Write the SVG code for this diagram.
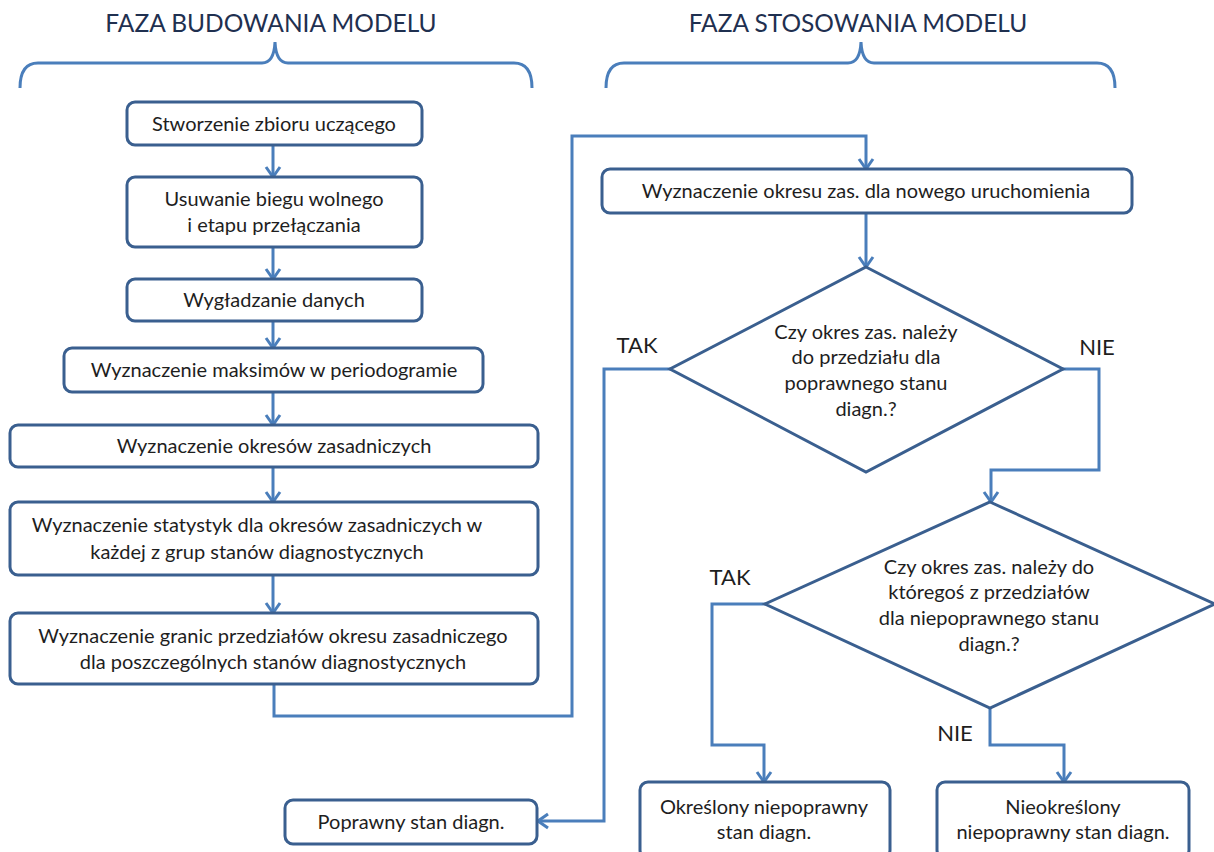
<svg xmlns="http://www.w3.org/2000/svg" width="1214" height="852" viewBox="0 0 1214 852">
<defs>
<style>
.box{fill:#fff;stroke:#3a5f8f;stroke-width:3}
.con{fill:none;stroke:#4a7ebb;stroke-width:3}
.brace{fill:none;stroke:#4a7ebb;stroke-width:3}
text{font-family:Lato,"Open Sans","Liberation Sans",sans-serif;fill:#1e1e1e;text-anchor:middle}
.t{font-size:20px}
.hdr{font-size:24.5px;fill:#1f3050}
.lbl{font-size:22px;fill:#1e1e1e}
</style>
<marker id="arr" markerUnits="userSpaceOnUse" markerWidth="14" markerHeight="18" viewBox="0 0 14 18" refX="12" refY="9" orient="auto">
<path d="M2,2 L12,9 L2,16" fill="none" stroke="#4a7ebb" stroke-width="3"/>
</marker>
</defs>
<rect width="1214" height="852" fill="#fff"/>

<g id="headers">
<text class="hdr" x="271" y="32">FAZA BUDOWANIA MODELU</text>
<text class="hdr" x="858" y="32">FAZA STOSOWANIA MODELU</text>
<path class="brace" d="M20,88 Q20,63 38,63 L262,63 Q274,63 275,42 Q276,63 288,63 L514,63 Q532,63 532,88"/>
<path class="brace" d="M606,88 Q606,63 624,63 L848,63 Q860,63 861,42 Q862,63 874,63 L1097,63 Q1115,63 1115,88"/>
</g>

<g id="connectors">
<line class="con" x1="273" y1="145" x2="273" y2="177" marker-end="url(#arr)"/>
<line class="con" x1="273" y1="247" x2="273" y2="279" marker-end="url(#arr)"/>
<line class="con" x1="273" y1="320" x2="273" y2="348" marker-end="url(#arr)"/>
<line class="con" x1="273" y1="392" x2="273" y2="425" marker-end="url(#arr)"/>
<line class="con" x1="273" y1="467" x2="273" y2="502" marker-end="url(#arr)"/>
<line class="con" x1="273" y1="575" x2="273" y2="613" marker-end="url(#arr)"/>
<polyline class="con" points="274,684 274,716 572,716 572,136 866,136 866,169" marker-end="url(#arr)"/>
<line class="con" x1="866" y1="213" x2="866" y2="267" marker-end="url(#arr)"/>
<polyline class="con" points="672,369 604,369 604,821 538,821" marker-end="url(#arr)"/>
<polyline class="con" points="1062,369 1099,369 1099,470 991,470 991,502" marker-end="url(#arr)"/>
<polyline class="con" points="767,604 712,604 712,745 764,745 764,782" marker-end="url(#arr)"/>
<polyline class="con" points="990,708 990,745 1064,745 1064,782" marker-end="url(#arr)"/>
</g>

<g id="n1"><rect class="box" x="127" y="102" width="295" height="43" rx="8"/><text class="t" x="274" y="131">Stworzenie zbioru uczącego</text></g>
<g id="n2"><rect class="box" x="127" y="177" width="295" height="70" rx="8"/><text class="t" x="274" y="206">Usuwanie biegu wolnego</text><text class="t" x="274" y="232">i etapu przełączania</text></g>
<g id="n3"><rect class="box" x="127" y="279" width="295" height="42" rx="8"/><text class="t" x="274" y="307">Wygładzanie danych</text></g>
<g id="n4"><rect class="box" x="64" y="348" width="419" height="44" rx="8"/><text class="t" x="274" y="377">Wyznaczenie maksimów w periodogramie</text></g>
<g id="n5"><rect class="box" x="10" y="425" width="528" height="42" rx="8"/><text class="t" x="274" y="453">Wyznaczenie okresów zasadniczych</text></g>
<g id="n6"><rect class="box" x="10" y="502" width="528" height="73" rx="8"/><text class="t" x="257" y="532">Wyznaczenie statystyk dla okresów zasadniczych w</text><text class="t" x="257" y="559">każdej z grup stanów diagnostycznych</text></g>
<g id="n7"><rect class="box" x="10" y="613" width="528" height="71" rx="8"/><text class="t" x="273" y="643">Wyznaczenie granic przedziałów okresu zasadniczego</text><text class="t" x="273" y="669">dla poszczególnych stanów diagnostycznych</text></g>

<g id="r1"><rect class="box" x="602" y="169" width="530" height="44" rx="8"/><text class="t" x="866" y="198">Wyznaczenie okresu zas. dla nowego uruchomienia</text></g>
<g id="d1"><polygon class="box" points="866,267 1063,369 866,472 670,369"/>
<text class="t" x="866" y="339">Czy okres zas. należy</text><text class="t" x="866" y="364">do przedziału dla</text><text class="t" x="866" y="390">poprawnego stanu</text><text class="t" x="866" y="416">diagn.?</text></g>
<g id="d2"><polygon class="box" points="990,502 1215,604 990,708 765,604"/>
<text class="t" x="989" y="574">Czy okres zas. należy do</text><text class="t" x="989" y="599">któregoś z przedziałów</text><text class="t" x="989" y="625">dla niepoprawnego stanu</text><text class="t" x="989" y="651">diagn.?</text></g>

<g id="p1"><rect class="box" x="285" y="800" width="252" height="44" rx="8"/><text class="t" x="411" y="829">Poprawny stan diagn.</text></g>
<g id="p2"><rect class="box" x="640" y="782" width="250" height="76" rx="8"/><text class="t" x="764" y="814">Określony niepoprawny</text><text class="t" x="764" y="839">stan diagn.</text></g>
<g id="p3"><rect class="box" x="937" y="782" width="252" height="76" rx="8"/><text class="t" x="1063" y="814">Nieokreślony</text><text class="t" x="1063" y="839">niepoprawny stan diagn.</text></g>

<g id="labels">
<text class="lbl" x="637" y="353">TAK</text>
<text class="lbl" x="1097" y="355">NIE</text>
<text class="lbl" x="730" y="585">TAK</text>
<text class="lbl" x="955" y="741">NIE</text>
</g>
</svg>
